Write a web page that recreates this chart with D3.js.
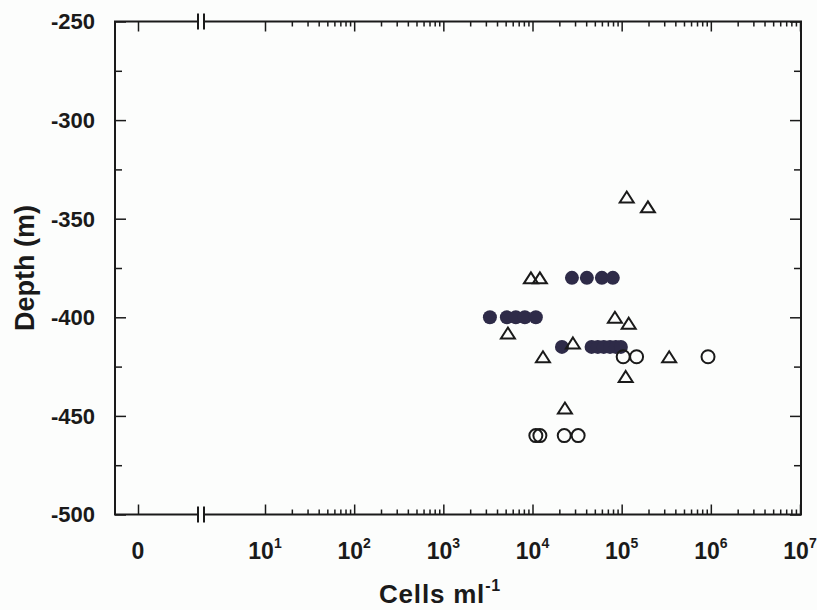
<!DOCTYPE html>
<html>
<head>
<meta charset="utf-8">
<script src="https://cdn.jsdelivr.net/npm/d3@7"></script>
<style>
  body { margin: 0; background: #fcfdfc; }
  svg { font-family: "Liberation Sans", Arial, sans-serif; font-weight: bold; }
  .tick line { stroke: #1a1a1a; stroke-width: 1.5; }
</style>
</head>
<body>
<svg width="817" height="610"></svg>
<script>
// open triangles (cells ml-1, depth m)
var triCells = [1.14e5, 1.97e5, 9.6e3, 1.21e4, 5.3e3, 8.4e4, 1.2e5, 2.84e4, 1.31e4, 3.41e5, 1.11e5, 2.31e4];
var triDepth = [-339, -344, -380, -380, -408, -400, -403, -413, -420, -420, -430, -446];

// open circles
var openCells = [1.04e5, 1.47e5, 9.3e5, 1.09e4, 1.21e4, 2.27e4, 3.25e4];
var openDepth = [-420, -420, -420, -460, -460, -460, -460];

// filled circles
var fillCells = [2.77e4, 4.07e4, 6.0e4, 7.96e4,
                 3.33e3, 5.16e3, 6.5e3, 8.2e3, 1.09e4,
                 2.14e4, 4.6e4, 5.4e4, 6.3e4, 7.4e4, 8.6e4, 9.8e4];
var fillDepth = [-380, -380, -380, -380,
                 -400, -400, -400, -400, -400,
                 -415, -415, -415, -415, -415, -415, -415];

var depthTicks = [-250, -300, -350, -400, -450, -500];
var depthMinor = [-275, -325, -375, -425, -475];
var decades = [1, 2, 3, 4, 5, 6, 7];

window.onload = function(){
    render_chart();
}

function render_chart(){
    var svg = d3.select("svg");

    var left = 115, right = 801, top = 21.5, bottom = 514.5;
    var breakA = 198, breakB = 204;

    // y: depth
    var y = d3.scaleLinear().domain([-500, -250]).range([bottom, top]);

    // x: linear piece for 0, log piece after the break
    var x0 = d3.scaleLinear().domain([-1, 1]).range([left, 161]);
    var x = d3.scaleLog().domain([10, 1e7]).range([265, 800]);

    var minor = [];
    for (var e = 1; e < 7; e++) {
        for (var m = 2; m < 10; m++) minor.push(m * Math.pow(10, e));
    }

    // left axis
    svg.append("g")
        .attr("transform", "translate(" + left + ",0)")
        .call(d3.axisRight(y).tickValues(depthTicks).tickSize(11).tickFormat(""))
        .call(function(g){ g.select(".domain").remove(); });
    svg.append("g")
        .attr("transform", "translate(" + left + ",0)")
        .call(d3.axisRight(y).tickValues(depthMinor).tickSize(7).tickFormat(""))
        .call(function(g){ g.select(".domain").remove(); });

    // right axis
    svg.append("g")
        .attr("transform", "translate(" + right + ",0)")
        .call(d3.axisLeft(y).tickValues(depthTicks).tickSize(11).tickFormat(""))
        .call(function(g){ g.select(".domain").remove(); });
    svg.append("g")
        .attr("transform", "translate(" + right + ",0)")
        .call(d3.axisLeft(y).tickValues(depthMinor).tickSize(7).tickFormat(""))
        .call(function(g){ g.select(".domain").remove(); });

    // depth labels
    svg.append("g")
        .selectAll("text")
        .data(depthTicks)
        .enter().append("text")
        .attr("x", 95)
        .attr("y", function(d) { return y(d); })
        .attr("dy", "0.36em")
        .attr("text-anchor", "end")
        .attr("font-size", 22)
        .attr("fill", "#1a1a1a")
        .text(function(d) { return d; });

    // bottom + top ticks
    [[bottom, d3.axisTop], [top, d3.axisBottom]].forEach(function(p){
        svg.append("g")
            .attr("transform", "translate(0," + p[0] + ")")
            .call(p[1](x0).tickValues([0]).tickSize(10).tickFormat(""))
            .call(function(g){ g.select(".domain").remove(); });
        svg.append("g")
            .attr("transform", "translate(0," + p[0] + ")")
            .call(p[1](x).tickValues(decades.map(function(d){ return Math.pow(10, d); })).tickSize(10).tickFormat(""))
            .call(function(g){ g.select(".domain").remove(); });
        svg.append("g")
            .attr("transform", "translate(0," + p[0] + ")")
            .call(p[1](x).tickValues(minor).tickSize(5).tickFormat(""))
            .call(function(g){ g.select(".domain").remove(); });
    });

    // frame with the axis break
    var frame = svg.append("g")
        .attr("stroke", "#1a1a1a")
        .attr("stroke-width", 2)
        .attr("fill", "none");
    frame.append("line").attr("x1", left).attr("x2", left).attr("y1", top).attr("y2", bottom);
    frame.append("line").attr("x1", right).attr("x2", right).attr("y1", top).attr("y2", bottom);
    [top, bottom].forEach(function(yy){
        frame.append("line").attr("x1", left - 1).attr("x2", breakA).attr("y1", yy).attr("y2", yy);
        frame.append("line").attr("x1", breakB).attr("x2", right + 1).attr("y1", yy).attr("y2", yy);
        frame.append("line").attr("x1", breakA).attr("x2", breakA).attr("y1", yy - 8).attr("y2", yy + 8);
        frame.append("line").attr("x1", breakB).attr("x2", breakB).attr("y1", yy - 8).attr("y2", yy + 8);
    });

    // x labels
    svg.append("text")
        .attr("x", x0(0))
        .attr("y", 559)
        .attr("text-anchor", "middle")
        .attr("font-size", 23)
        .attr("fill", "#1a1a1a")
        .text("0");

    var xl = svg.append("g")
        .selectAll("text")
        .data(decades)
        .enter().append("text")
        .attr("x", function(d) { return x(Math.pow(10, d)); })
        .attr("y", 559)
        .attr("text-anchor", "middle")
        .attr("font-size", 23)
        .attr("fill", "#1a1a1a");
    xl.append("tspan").text("10");
    xl.append("tspan")
        .attr("dy", -11)
        .attr("font-size", 14)
        .text(function(d) { return d; });

    // axis titles
    var xt = svg.append("text")
        .attr("x", 440)
        .attr("y", 603)
        .attr("text-anchor", "middle")
        .attr("font-size", 26)
        .attr("letter-spacing", 0.8)
        .attr("fill", "#1a1a1a");
    xt.append("tspan").text("Cells ml");
    xt.append("tspan").attr("dy", -12).attr("font-size", 16).text("-1");

    svg.append("text")
        .attr("transform", "translate(34," + ((top + bottom) / 2) + ") rotate(-90)")
        .attr("text-anchor", "middle")
        .attr("font-size", 27)
        .attr("fill", "#1a1a1a")
        .text("Depth (m)");

    // points
    var plot = svg.append("g");

    plot.selectAll(".filled")
        .data(fillCells)
        .enter().append("circle")
        .attr("class", "filled")
        .attr("cx", function(d) { return x(d); })
        .attr("cy", function(d, i) { return y(fillDepth[i]); })
        .attr("r", 7)
        .attr("fill", "#2e2b48");

    plot.selectAll(".open")
        .data(openCells)
        .enter().append("circle")
        .attr("class", "open")
        .attr("cx", function(d) { return x(d); })
        .attr("cy", function(d, i) { return y(openDepth[i]); })
        .attr("r", 6.5)
        .attr("fill", "none")
        .attr("stroke", "#1a1a1a")
        .attr("stroke-width", 2);

    plot.selectAll(".tri")
        .data(triCells)
        .enter().append("path")
        .attr("class", "tri")
        .attr("transform", function(d, i) { return "translate(" + x(d) + "," + y(triDepth[i]) + ")"; })
        .attr("d", "M0,-5.5L7,5.5L-7,5.5Z")
        .attr("fill", "none")
        .attr("stroke", "#1a1a1a")
        .attr("stroke-width", 2)
        .attr("stroke-linejoin", "miter");
}
</script>
</body>
</html>
